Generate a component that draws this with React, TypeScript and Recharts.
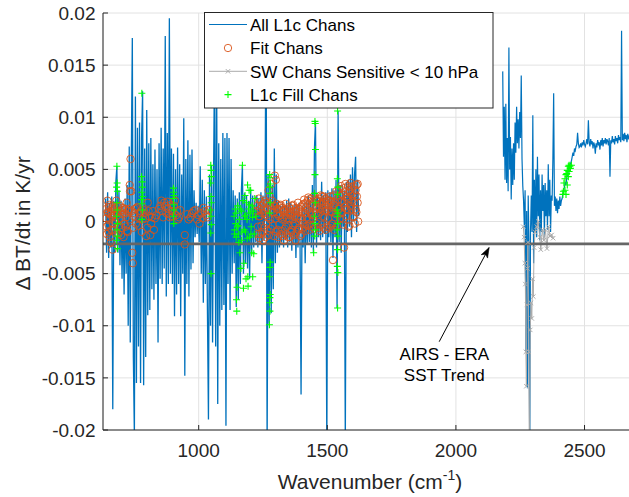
import React from 'react';
import {
  ComposedChart,
  Line,
  Scatter,
  XAxis,
  YAxis,
  CartesianGrid,
  ReferenceLine,
  ReferenceDot,
} from 'recharts';

type P = [number, number];

// All L1c channels, longwave / midwave part (wavenumber, dBT/dt)
const blueLeft: P[] = [
  [638,0.0022],[642,-0.003],[646,0.0028],[650,-0.0035],[654,0.0018],[658,-0.0025],[662,0.0024],[666,-0.018],
  [670,0.002],[674,-0.003],[678,0.0038],[682,0.0053],[686,-0.003],[690,0.003],[694,-0.0042],[698,0.002],
  [702,-0.0055],[706,0.0015],[710,-0.007],[714,0.0022],[718,-0.005],[722,0.0035],[726,-0.01],[730,0.0072],
  [734,-0.0116],[738,0.006],[742,0.0176],[746,-0.013],[750,-0.0205],[754,0.012],[758,-0.0155],[762,0.009],
  [766,-0.012],[770,0.0095],[774,-0.0155],[778,0.008],[782,0.0125],[786,-0.0157],[790,0.007],[794,-0.013],
  [798,0.0107],[802,-0.009],[806,0.0075],[810,-0.0085],[814,0.008],[818,-0.0065],[822,0.0055],[826,-0.0075],
  [830,0.0069],[834,-0.006],[838,0.005],[842,-0.0116],[846,0.0075],[850,-0.0055],[854,0.009],[858,-0.006],
  [862,0.007],[866,-0.0045],[870,0.0178],[874,-0.0072],[878,0.0085],[882,-0.006],[886,0.0195],[890,-0.005],
  [894,0.007],[898,-0.006],[902,0.0065],[906,-0.0091],[910,0.005],[914,-0.007],[918,0.0071],[922,-0.006],
  [926,0.0055],[930,-0.0091],[934,0.0045],[938,-0.005],[942,0.0099],[946,-0.0148],[950,0.006],[954,-0.006],
  [958,0.0078],[962,-0.0072],[966,0.0064],[970,-0.0046],[974,0.0069],[978,-0.004],[982,0.003],[986,-0.0015],
  [990,0.0018],[994,-0.0012],[998,0.0015],[1002,-0.002],[1006,0.0053],[1010,-0.005],[1014,0.004],[1018,-0.0078],
  [1022,0.003],[1026,-0.006],[1030,0.0024],[1034,-0.0085],[1038,-0.019],[1042,0.0045],[1046,-0.01],[1050,0.0054],
  [1054,-0.0116],[1058,0.005],[1062,0.0165],[1066,-0.012],[1070,0.013],[1074,-0.0175],[1078,0.0075],[1082,-0.01],
  [1086,0.006],[1090,-0.0085],[1094,0.0085],[1098,-0.008],[1102,0.008],[1106,-0.0196],[1110,0.0085],[1114,-0.006],
  [1118,0.008],[1122,-0.0085],[1126,0.006],[1130,-0.005],[1134,0.003],[1138,-0.004],[1142,0.0025],[1146,-0.0082],
  [1150,0.0022],[1154,-0.0075],[1158,0.0028],[1162,-0.006],[1166,0.003],[1170,0.0054],[1174,-0.005],[1178,0.0027],
  [1182,-0.004],[1186,0.0025],[1190,-0.0045],[1194,0.002],[1198,-0.0055],[1202,0.003],[1206,-0.003],[1210,0.0025],
  [1214,-0.0025],[1218,0.002],[1222,-0.002],[1226,0.0025],[1230,-0.0025],[1234,0.0022],[1238,-0.002],[1242,0.0028],
  [1246,-0.004],[1250,0.0025],[1254,-0.0018],[1258,0.0022],[1262,0.022],[1266,-0.022],[1270,0.0045],[1274,-0.0098],
  [1278,0.004],[1282,-0.0088],[1286,0.0035],[1290,-0.0065],[1294,0.007],[1298,-0.004],[1302,0.0045],[1306,-0.003],
  [1310,0.002],[1314,-0.0025],[1318,0.0015],[1322,-0.002],[1326,0.0018],[1330,-0.0025],[1334,0.0015],[1338,-0.0018],
  [1342,0.002],[1346,-0.0025],[1350,0.0022],[1354,-0.002],[1358,0.0018],[1362,-0.0028],[1366,0.0015],[1370,-0.0022],
  [1374,0.0017],[1378,-0.0035],[1382,0.0015],[1386,-0.0025],[1390,0.0018],[1394,-0.002],[1398,-0.0166],[1402,0.0015],
  [1406,-0.0025],[1410,0.0018],[1414,-0.004],[1418,0.002],[1422,-0.0022],[1426,0.0025],[1430,-0.002],[1434,0.002],
  [1438,-0.0025],[1442,0.0035],[1446,-0.003],[1450,0.007],[1454,0.0096],[1458,-0.0025],[1462,0.0025],[1466,-0.0015],
  [1470,0.0022],[1474,-0.0018],[1478,0.0038],[1482,-0.0015],[1486,0.0025],[1490,-0.0012],[1494,0.0028],[1498,-0.021],
  [1502,0.003],[1506,-0.0015],[1510,0.0028],[1514,-0.002],[1518,0.0032],[1522,-0.0035],[1526,0.003],[1530,-0.0015],
  [1534,0.004],[1538,-0.0083],[1542,0.0106],[1546,-0.002],[1550,0.0035],[1554,-0.003],[1558,0.0035],[1562,-0.0005],
  [1566,0.003],[1570,-0.021],[1574,0.0038],[1578,-0.001],[1582,0.004],[1586,-0.0005],[1590,0.0045],[1594,-0.0015],
  [1598,0.0052],[1602,0],[1606,0.0045],[1610,0.0062],[1614,-0.001],[1618,0.004],[1622,0.0005],
];

// All L1c channels, shortwave part
const blueRight: P[] = [
  [2182,0.0144],[2185,0.0062],[2188,0.011],[2191,0.004],[2194,0.0113],[2197,0.0037],[2200,0.008],[2203,0.0029],
  [2206,0.0167],[2209,0.005],[2212,0.0081],[2215,0.0021],[2218,0.007],[2221,0.0035],[2224,0.0075],[2227,0.004],
  [2230,0.0095],[2233,0.0066],[2236,0.011],[2239,0.0075],[2242,0.0098],[2245,0.007],[2248,0.0105],[2251,0.008],
  [2254,0.014],[2257,0.006],[2260,0.0034],[2263,0.002],[2266,-0.0005],[2269,0.003],[2272,-0.0125],[2275,0.001],
  [2278,-0.016],[2281,0.0025],[2284,-0.002],[2287,-0.023],[2290,-0.001],[2293,0.0025],[2296,-0.001],[2299,0.0102],
  [2302,-0.004],[2305,0.004],[2308,-0.001],[2311,0.005],[2314,-0.0015],[2317,0.0062],[2320,0.0005],[2323,0.0045],
  [2326,-0.0018],[2329,0.003],[2332,-0.001],[2335,0.0045],[2338,0.001],[2341,0.0035],[2344,-0.0015],[2347,0.0037],
  [2350,0.0005],[2353,0.003],[2356,-0.0008],[2359,0.0055],[2362,0.0005],[2365,0.004],[2368,-0.001],[2371,0.0025],
  [2374,0.002],[2377,0.006],[2380,0.0123],[2383,0.0015],[2386,0.0024],[2389,0.001],[2392,0.0022],[2395,0.0008],
  [2398,0.002],[2401,0.0012],[2404,0.0024],[2407,0.0015],[2410,0.002],[2413,0.0022],[2416,0.0027],[2419,0.003],
  [2422,0.0033],[2425,0.0038],[2428,0.0035],[2431,0.0042],[2434,0.0045],[2437,0.0048],[2440,0.0052],[2443,0.0054],
  [2446,0.0056],[2449,0.0058],[2452,0.0062],[2455,0.0066],[2458,0.0063],[2461,0.007],[2464,0.0068],[2467,0.0072],
  [2470,0.0074],[2473,0.0085],[2476,0.0075],[2479,0.0071],[2482,0.0072],[2485,0.0075],[2488,0.0071],[2491,0.0076],
  [2494,0.0073],[2497,0.0078],[2500,0.0074],[2503,0.0072],[2506,0.0075],[2509,0.0079],[2512,0.0074],[2515,0.0097],
  [2518,0.0076],[2521,0.0072],[2524,0.0079],[2527,0.0074],[2530,0.0077],[2533,0.007],[2536,0.0076],[2539,0.0073],
  [2542,0.0065],[2545,0.0075],[2548,0.0071],[2551,0.0078],[2554,0.0074],[2557,0.0076],[2560,0.0069],[2563,0.0078],
  [2566,0.0073],[2569,0.008],[2572,0.0072],[2575,0.0078],[2578,0.0075],[2581,0.008],[2584,0.0074],[2587,0.0079],
  [2590,0.0077],[2593,0.0073],[2596,0.008],[2599,0.0043],[2602,0.0078],[2605,0.0075],[2608,0.0082],[2611,0.0076],
  [2614,0.0079],[2617,0.0074],[2620,0.0082],[2623,0.0077],[2626,0.008],[2629,0.0075],[2632,0.0083],[2635,0.0078],
  [2638,0.0081],[2641,0.0076],[2644,0.0183],[2647,0.0078],[2650,0.0084],[2653,0.0077],[2656,0.0085],[2659,0.0079],
  [2662,0.0083],[2665,0.0076],[2668,0.0084],[2671,0.008],[2674,0.0082],[2677,0.0079],[2680,0.0083],
];

// Fit channels (open circles), longwave window / CO2 band
const fitChansLW: P[] = [
  [640,0.0012],[642,-0.0005],[645,0.002],[648,0.0008],[650,-0.001],[652,0.0016],[655,0.0002],[658,-0.002],
  [660,0.001],[663,0.0005],[665,-0.0027],[668,0.0015],[672,-0.0008],[676,0],[680,0.002],[684,0.0006],
  [688,-0.0012],[692,0.0015],[695,0.0003],[700,-0.0006],[704,0.0011],[708,-0.0015],[712,0.0008],[716,-0.0005],
  [720,0.0018],[724,-0.001],[728,0.0012],[732,0.0035],[735,0.006],[738,0.0029],[742,-0.003],[744,-0.004],
  [748,0.0005],[752,0.0012],[756,-0.0002],[762,0.0014],[768,0.0003],[775,0.001],[782,0.0002],[790,0.0008],
  [796,-0.0014],[802,0.0018],[808,0.0005],[815,-0.0002],[822,0.001],[830,0.0003],[850,0.0015],[858,0.001],
  [866,0.0018],[874,0.0008],[880,0.0012],[888,0.0004],[896,0.001],[904,0.0015],[912,0.0006],[920,0.0002],
  [928,0.0011],[946,-0.0013],[946,-0.0022],[961,0.0002],[974,0.0008],[987,0.0011],[994,0.0002],[1003,-0.0002],
  [1010,0.0008],[1019,0.0013],[1029,0.0006],[1039,0.0011],
  [641,0.0003],[643,-0.0012],[646,0.0009],[649,-0.0003],[651,0.0014],[654,-0.0015],[657,0.0007],[661,-0.0008],
  [664,0.0012],[667,-0.0002],[670,0.0006],[674,0.0013],[678,-0.0011],[682,0.0009],[686,0.0014],[690,-0.0004],
  [694,0.001],[698,-0.0013],[702,0.0007],[706,0.0013],[710,-0.0002],[714,0.0012],[718,0.0004],[722,-0.0009],
  [726,0.001],[730,0.0002],[733,0.0029],[740,0.001],[746,-0.0006],[750,0.0008],[758,0.0013],[765,-0.0004],
  [772,0.0008],[779,-0.001],[786,0.0011],[793,0.0003],[800,-0.0006],[805,0.001],[812,-0.0013],[818,0.0004],
  [826,-0.0008],[835,0.0006],[845,0.0012],[855,0.002],[862,0.0004],[870,0.0015],[878,0.0019],[884,0.0007],
  [892,0.0016],[900,0.0005],[908,0.002],[916,0.001],[924,0.0004],[955,0.0007],[968,0.0004],[980,0.001],
  [999,0.0006],[1015,0.0003],[1024,0.001],[1034,0.0004],
];

// Fit channels (open circles), water-vapour band
const fitChansMW: P[] = [
  [1226,0.001],[1230,-0.0005],[1234,0.0022],[1238,0.0005],[1242,-0.0012],[1246,0.0015],[1250,-0.0018],[1254,0.0008],
  [1258,0.002],[1262,-0.0002],[1268,0.0012],[1272,0.003],[1276,0.0024],[1282,0.0036],[1290,0.0015],[1296,0.0044],
  [1300,0.004],[1304,0.0012],[1308,-0.0008],[1312,0.0005],[1316,0.0015],[1320,-0.0012],[1324,0.0002],[1328,0.001],
  [1332,-0.0018],[1336,0.0006],[1340,-0.0005],[1344,0.0012],[1348,-0.0015],[1352,0.0003],[1356,0.0008],[1360,-0.001],
  [1364,0.0015],[1368,-0.0004],[1372,0.0005],[1376,-0.0018],[1380,0.001],[1384,0.0003],[1388,-0.0008],[1392,0.0012],
  [1396,0.0002],[1400,-0.0012],[1404,0.0009],[1408,0.0017],[1412,-0.0005],[1416,0.0013],[1420,0.0004],[1424,0.002],
  [1428,-0.0003],[1432,0.001],[1436,0.0022],[1440,0.0006],[1444,0.0015],[1458,0.0008],[1462,0.002],[1466,-0.0006],
  [1470,0.0012],[1474,0.0025],[1478,0.0018],[1482,0.0005],[1486,0.0024],[1490,0.001],[1494,0.0016],[1500,-0.0005],
  [1505,0.0012],[1510,0.002],[1514,-0.0004],[1518,0.0009],[1522,-0.0037],[1526,0.0016],[1530,0.0004],[1546,0.0012],
  [1550,0.0025],[1554,0.0008],[1558,0.002],[1562,0.0002],[1565,-0.0025],[1566,0.0018],[1570,0.0028],[1574,0.0012],
  [1578,0.0022],[1582,-0.0005],[1586,0.003],[1590,0.0015],[1594,0.0033],[1598,0.002],[1602,0.0005],[1606,0.0026],
  [1610,0.0012],[1614,0.0035],[1618,0.0018],[1620,0],
  [1228,0.0015],[1231,-0.0012],[1233,0.0005],[1236,-0.0016],[1239,0.0012],[1241,0.0019],[1244,-0.0004],[1247,0.0008],
  [1249,-0.001],[1252,0.0017],[1255,-0.0006],[1257,0.0011],[1260,-0.0015],[1263,0.0006],[1265,0.0018],[1267,-0.0009],
  [1270,0.0004],[1273,-0.0013],[1275,0.0016],[1278,0.0002],[1280,-0.0007],[1283,0.0012],[1285,0.002],[1288,-0.0004],
  [1291,0.0009],[1293,-0.0014],[1295,0.0015],[1298,0.0003],[1301,-0.001],[1303,0.0017],[1306,0.0007],[1309,-0.0015],
  [1311,0.0012],[1314,-0.0003],[1317,0.0006],[1319,0.0016],[1322,-0.0009],[1325,0.0013],[1327,-0.0014],[1330,0.0004],
  [1333,0.0011],[1335,-0.0007],[1338,0.0017],[1341,-0.0012],[1343,0.0003],[1346,0.0009],[1349,-0.0004],[1351,0.0014],
  [1354,-0.0015],[1357,0.0006],[1359,0.0012],[1362,-0.0008],[1365,0.0002],[1367,0.0016],[1370,-0.0013],[1373,0.001],
  [1375,-0.0002],[1378,0.0013],[1381,-0.001],[1383,0.0005],[1386,0.0018],[1389,-0.0006],[1391,0.0009],[1394,-0.0014],
  [1397,0.0014],[1399,0.0004],[1402,-0.0007],[1405,0.0016],[1407,-0.0002],[1410,0.0021],[1413,0.0008],[1415,-0.0009],
  [1418,0.0018],[1421,-0.0004],[1423,0.0011],[1426,0.0023],[1429,0.0002],[1431,-0.0008],[1434,0.0015],[1437,0.0007],
  [1439,-0.0005],[1442,0.0019],[1445,0.0003],[1447,0.0024],[1450,-0.0007],[1453,0.0012],[1455,0.0021],[1458,-0.0002],
  [1461,0.0014],[1463,0.0006],[1466,0.0022],[1469,-0.0009],[1471,0.0017],[1474,0.0009],[1477,-0.0003],[1479,0.0024],
  [1482,0.0013],[1485,-0.0006],[1487,0.0019],[1490,0.0004],[1493,0.0022],[1495,-0.0008],[1498,0.0011],[1501,0.002],
  [1503,0.0003],[1506,0.0016],[1509,-0.0006],[1511,0.0024],[1514,0.001],[1517,0.0019],[1519,-0.0002],[1522,0.0014],
  [1525,0.0025],[1527,-0.0008],[1530,0.0018],[1533,0.0007],[1535,0.0029],[1538,-0.0004],[1541,0.0021],[1543,0.0012],
  [1546,0.0031],[1549,0.0003],[1551,0.0019],[1554,0.0034],[1557,0.0009],[1559,0.0026],[1562,-0.0003],[1565,0.0032],
  [1567,0.0014],[1570,0.0036],[1573,0.0005],[1575,0.0024],[1578,0.0011],[1581,0.0034],[1583,0.002],[1586,-0.0004],
  [1589,0.0028],[1591,0.0037],[1594,0.0012],[1597,0.0025],[1599,0.0004],[1602,0.0034],[1605,0.0018],[1607,-0.0002],
  [1610,0.003],[1613,0.0009],[1615,0.0024],[1618,0.0036],
];

// SW channels sensitive above 10 hPa (grey x line)
const swChans: P[] = [
  [2262,-0.0005],[2265,-0.0015],[2268,-0.004],[2270,-0.006],[2272,-0.0125],[2274,-0.0158],[2276,-0.008],[2278,-0.0045],
  [2280,-0.002],[2283,-0.0125],[2286,-0.024],[2289,-0.0104],[2292,-0.0078],[2295,-0.0093],[2298,-0.0055],[2301,-0.0072],
  [2304,-0.0025],[2308,-0.001],[2314,-0.0005],[2320,0],[2326,-0.0015],[2330,-0.0027],[2336,-0.0008],[2342,-0.0018],
  [2348,-0.0008],[2354,-0.0026],[2360,-0.0005],[2366,-0.0014],[2372,-0.0013],[2378,-0.0016],
];

// L1c fill channels (green +)
const fillChans: P[] = [
  [682,0.0053],[683,0.0037],[681,0.0033],[684,0.0029],[682,0.0018],[683,0.0011],[681,0.0005],[684,-0.0002],
  [682,-0.0008],[683,-0.0014],[681,-0.0018],[684,-0.0026],
  [779,0.0123],[778,0.0043],[780,0.0038],[781,0.0033],[779,0.0028],[782,0.0024],[778,0.0021],[780,0.0017],
  [781,0.0011],[779,0.0002],
  [902,0.0032],[903,0.0028],[904,0.0025],[902,0.0022],[903,0.0016],[904,0.0011],[902,0.0005],[903,-0.0002],
  [1047,0.0054],[1048,0.0049],[1049,0.0043],[1047,0.0037],[1048,0.0024],[1049,0.0018],[1047,0.0011],[1048,0.0005],
  [1049,-0.0003],[1047,-0.0011],[1048,-0.005],
  [1138,0.0005],[1139,-0.0012],[1140,-0.0008],[1142,0.0012],[1144,-0.0002],[1145,0.0008],[1146,-0.0015],[1147,-0.0075],
  [1148,-0.0086],[1149,-0.0063],[1150,-0.0005],[1152,0.0015],[1153,-0.0004],[1154,-0.0012],[1156,-0.002],[1158,0.0002],
  [1160,-0.003],[1161,0.0012],[1164,-0.0045],[1166,0.001],[1167,-0.0018],[1168,-0.001],[1170,0.0054],[1172,0.002],
  [1174,-0.0064],[1176,-0.004],[1177,-0.0008],[1178,0.0005],[1180,0.0025],[1182,-0.001],[1183,0.0006],[1184,-0.0055],
  [1186,0.0018],[1188,0.0002],[1189,-0.0016],[1190,0.0035],[1191,-0.0053],[1192,-0.0062],[1194,0.0012],[1196,0.003],
  [1197,0.0016],[1198,-0.0015],[1200,0.0008],[1202,0.003],[1203,-0.0012],[1204,-0.0005],[1206,-0.003],[1208,0.0015],
  [1209,0.0004],[1210,-0.0053],[1212,0.001],[1214,-0.0031],[1216,-0.0012],[1218,0.0022],[1222,0.0005],
  [1276,0.0045],[1277,0.0042],[1278,0.0036],[1276,0.0033],[1277,0.0027],[1278,0.0018],[1276,0.0008],[1278,-0.0039],
  [1277,-0.0044],[1276,-0.0053],[1278,-0.007],[1277,-0.0073],[1276,-0.0078],[1277,-0.0086],[1275,-0.0099],
  [1452,0.0096],[1453,0.0094],[1454,0.0069],[1452,0.0045],[1451,0.0027],[1453,0.0018],[1450,0.0005],[1452,-0.0002],
  [1454,-0.0008],[1451,-0.0014],[1447,-0.003],
  [1540,0.0106],[1539,0.0041],[1541,0.0033],[1540,0.0026],[1538,0.0011],[1541,0.0008],[1539,0.0005],[1540,-0.0002],
  [1538,-0.0008],[1541,-0.0014],[1540,-0.0027],[1539,-0.0043],[1541,-0.0049],[1540,-0.0083],
  [2416,0.0026],[2418,0.0029],[2420,0.0037],[2424,0.003],[2424,0.0041],[2428,0.0045],[2428,0.0026],[2431,0.0046],
  [2433,0.0035],[2433,0.0049],[2437,0.0043],[2437,0.0053],[2440,0.0048],[2440,0.0054],[2443,0.0053],[2445,0.0051],
  [2449,0.0054],
];

const sstTrend = -0.00215;
const xDomain: [number, number] = [628, 2704];
const yDomain: [number, number] = [-0.02, 0.02];
const xTicks = [1000, 1500, 2000, 2500];
const yTicks = [-0.02, -0.015, -0.01, -0.005, 0, 0.005, 0.01, 0.015, 0.02];
const arrowFrom = { x: 1935, y: -0.01153 };
const arrowTo = { x: 2129, y: -0.0025 };
const noteAt = { x: 1955, y: -0.01325 };
const noteLines = ['AIRS - ERA', 'SST Trend'];
const legendLabels = ['All L1c Chans', 'Fit Chans', 'SW Chans Sensitive < 10 hPa', 'L1c Fill Chans'];

const FONT = "'Liberation Sans', Arial, Helvetica, sans-serif";
const INK = '#262626';
const BLUE = '#0072BD';
const ORANGE = '#D95319';
const GREY = '#ABABAB';
const GREEN = '#00FF00';

const rows = (pts: P[]) => pts.map(([wn, v]) => ({ wn, v }));

const circleShape = (p: any) => (
  <circle cx={p.cx} cy={p.cy} r={3.7} fill="none" stroke={ORANGE} strokeWidth={0.9} />
);
const plusShape = (p: any) => (
  <path
    d={`M${p.cx - 3.5},${p.cy}H${p.cx + 3.5}M${p.cx},${p.cy - 3.5}V${p.cy + 3.5}`}
    stroke={GREEN}
    strokeWidth={1.1}
    fill="none"
  />
);
const crossDot = (p: any) => {
  const { cx, cy, index } = p;
  if (cx == null || cy == null) return <g key={`sw-${index}`} />;
  const s = 2.2;
  return (
    <path
      key={`sw-${index}`}
      d={`M${cx - s},${cy - s}L${cx + s},${cy + s}M${cx - s},${cy + s}L${cx + s},${cy - s}`}
      stroke={GREY}
      strokeWidth={1}
      fill="none"
    />
  );
};

const arrowHead = (p: any) => {
  const { cx, cy } = p;
  const dx = 0.4695;
  const dy = -0.8826;
  const len = 10;
  const half = 3.6;
  const bx = cx - dx * len;
  const by = cy - dy * len;
  const nx = -dy;
  const ny = dx;
  const mx = cx - dx * len * 0.75;
  const my = cy - dy * len * 0.75;
  return (
    <polygon
      points={`${cx},${cy} ${bx + nx * half},${by + ny * half} ${mx},${my} ${bx - nx * half},${by - ny * half}`}
      fill="#000"
      stroke="#000"
      strokeWidth={0.6}
    />
  );
};

const noteShape = (p: any) => (
  <g>
    {noteLines.map((t, i) => (
      <text
        key={t}
        x={p.cx}
        y={p.cy + i * 21.7}
        textAnchor="middle"
        fontSize={17}
        fontFamily={FONT}
        fill="#000"
      >
        {t}
      </text>
    ))}
  </g>
);

const xLabel = (props: any) => {
  const vb = props.viewBox || { x: 103, y: 430, width: 534, height: 67 };
  const cx = vb.x + vb.width / 2;
  return (
    <text x={cx} y={vb.y + 59} textAnchor="middle" fontSize={21} fontFamily={FONT} fill={INK}>
      Wavenumber (cm
      <tspan dy={-9} fontSize={14}>
        -1
      </tspan>
      <tspan dy={9}>)</tspan>
    </text>
  );
};

const yLabel = (props: any) => {
  const vb = props.viewBox || { x: 0, y: 13, width: 103, height: 417 };
  const x = vb.x + 30;
  const y = vb.y + vb.height / 2 + 2;
  return (
    <text
      x={x}
      y={y}
      transform={`rotate(-90 ${x} ${y})`}
      textAnchor="middle"
      fontSize={21}
      fontFamily={FONT}
      fill={INK}
    >
      Δ BT/dt in K/yr
    </text>
  );
};

const LegendBox = () => {
  const centers = [12.5, 36, 59.3, 82.6];
  return (
    <svg
      width={291}
      height={98}
      style={{ position: 'absolute', left: 204, top: 12, overflow: 'visible' }}
    >
      <rect x={0.5} y={0.5} width={288.5} height={95.5} fill="#fff" stroke={INK} strokeWidth={1} />
      <line x1={5} x2={43} y1={centers[0]} y2={centers[0]} stroke={BLUE} strokeWidth={1} />
      <circle cx={24} cy={centers[1]} r={3.7} fill="none" stroke={ORANGE} strokeWidth={0.9} />
      <line x1={5} x2={43} y1={centers[2]} y2={centers[2]} stroke={GREY} strokeWidth={1} />
      <path
        d={`M${21.8},${centers[2] - 2.2}L${26.2},${centers[2] + 2.2}M${21.8},${centers[2] + 2.2}L${26.2},${centers[2] - 2.2}`}
        stroke={GREY}
        strokeWidth={1}
      />
      <path
        d={`M${20.5},${centers[3]}H${27.5}M${24},${centers[3] - 3.5}V${centers[3] + 3.5}`}
        stroke={GREEN}
        strokeWidth={1.1}
      />
      {legendLabels.map((t, i) => (
        <text key={t} x={46} y={centers[i] + 6.3} fontSize={17} fontFamily={FONT} fill="#000">
          {t}
        </text>
      ))}
    </svg>
  );
};

export default function App() {
  const axisTick = { fontSize: 19, fill: INK, fontFamily: FONT };
  const fitRows = rows([...fitChansLW, ...fitChansMW]);
  return (
    <div
      style={{
        position: 'absolute',
        left: 0,
        top: 0,
        width: 629,
        height: 497,
        overflow: 'hidden',
        background: '#fff',
      }}
    >
      <ComposedChart width={637} height={497} margin={{ top: 13, right: 0, bottom: 0, left: 0 }}>
        <CartesianGrid stroke="#E2E2E2" strokeWidth={1} />
        <XAxis
          dataKey="wn"
          type="number"
          domain={xDomain}
          ticks={xTicks}
          interval={0}
          allowDataOverflow
          height={67}
          tickSize={-5}
          tickMargin={18.5}
          tick={axisTick}
          axisLine={{ stroke: INK }}
          tickLine={{ stroke: INK }}
          label={xLabel}
        />
        <XAxis
          xAxisId="top"
          orientation="top"
          dataKey="wn"
          type="number"
          domain={xDomain}
          ticks={xTicks}
          interval={0}
          allowDataOverflow
          height={0}
          tickSize={-5}
          tick={() => <g />}
          axisLine={{ stroke: INK }}
          tickLine={{ stroke: INK }}
        />
        <YAxis
          type="number"
          domain={yDomain}
          ticks={yTicks}
          interval={0}
          allowDataOverflow
          width={103}
          tickSize={-5}
          tickMargin={12.5}
          tick={axisTick}
          tickFormatter={(v: number) => String(v)}
          axisLine={{ stroke: INK }}
          tickLine={{ stroke: INK }}
          label={yLabel}
        />
        <Line
          data={rows(blueLeft)}
          dataKey="v"
          stroke={BLUE}
          strokeWidth={1.3}
          dot={false}
          activeDot={false}
          isAnimationActive={false}
        />
        <Line
          data={rows(blueRight)}
          dataKey="v"
          stroke={BLUE}
          strokeWidth={1.2}
          dot={false}
          activeDot={false}
          isAnimationActive={false}
        />
        <Scatter data={fitRows} dataKey="v" shape={circleShape} isAnimationActive={false} />
        <Line
          data={rows(swChans)}
          dataKey="v"
          stroke={GREY}
          strokeWidth={1}
          dot={crossDot}
          activeDot={false}
          isAnimationActive={false}
        />
        <Scatter data={rows(fillChans)} dataKey="v" shape={plusShape} isAnimationActive={false} />
        <ReferenceLine y={sstTrend} stroke="#666666" strokeWidth={2.6} />
        <ReferenceLine segment={[arrowFrom, arrowTo]} stroke="#000" strokeWidth={1} />
        <ReferenceDot x={arrowTo.x} y={arrowTo.y} r={0} shape={arrowHead} />
        <ReferenceDot x={noteAt.x} y={noteAt.y} r={0} shape={noteShape} />
      </ComposedChart>
      <LegendBox />
    </div>
  );
}
